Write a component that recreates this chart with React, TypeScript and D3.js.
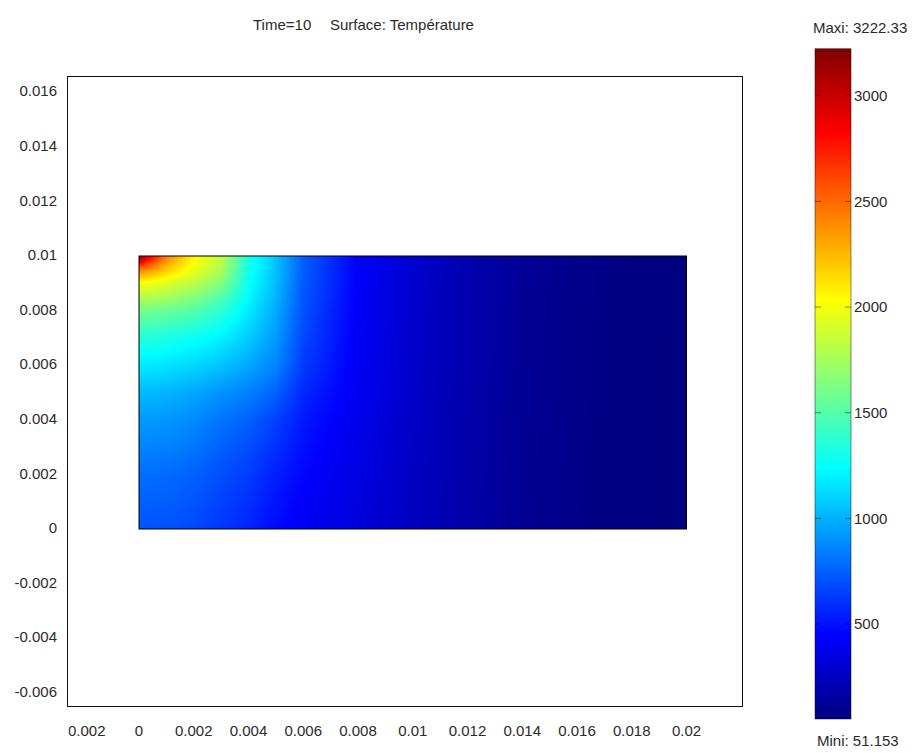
import React, { useMemo } from "react";
import * as d3 from "d3";

// ---- data ----
const titleLeft = "Time=10";
const titleRight = "Surface: Température";
const maxLabel = "Maxi: 3222.33";
const minLabel = "Mini: 51.153";
const tMin = 51.153;
const tMax = 3222.33;

const xTicks = [-0.002, 0, 0.002, 0.004, 0.006, 0.008, 0.01, 0.012, 0.014, 0.016, 0.018, 0.02];
const xTickLabels = ["-0.002", "0", "0.002", "0.004", "0.006", "0.008", "0.01", "0.012", "0.014", "0.016", "0.018", "0.02"];
const yTicks = [0.016, 0.014, 0.012, 0.01, 0.008, 0.006, 0.004, 0.002, 0, -0.002, -0.004, -0.006];
const yTickLabels = ["0.016", "0.014", "0.012", "0.01", "0.008", "0.006", "0.004", "0.002", "0", "-0.002", "-0.004", "-0.006"];
const cbTicks = [500, 1000, 1500, 2000, 2500, 3000];

// temperature grid (sampled from the surface plot colours)
const gridX = [0, 0.0005, 0.001, 0.002, 0.003, 0.004, 0.005, 0.006, 0.008, 0.01, 0.012, 0.014, 0.016, 0.018, 0.02];
const gridY = [0.01, 0.0095, 0.009, 0.0085, 0.008, 0.007, 0.006, 0.005, 0.004, 0.002, 0];
const row0100 = [3222, 2800, 2450, 2050, 1850, 1320, 1060, 740, 440, 300, 200, 125, 82, 62, 53];
const row0095 = [2450, 2350, 2200, 1980, 1780, 1300, 1050, 735, 438, 299, 199, 125, 82, 62, 53];
const row0090 = [2000, 1980, 1930, 1820, 1650, 1270, 1030, 725, 435, 297, 198, 124, 82, 62, 53];
const row0085 = [1800, 1790, 1760, 1660, 1500, 1230, 1010, 715, 432, 295, 197, 124, 81, 62, 53];
const row0080 = [1600, 1590, 1570, 1500, 1380, 1180, 980, 700, 428, 293, 196, 123, 81, 62, 53];
const row0070 = [1350, 1340, 1320, 1270, 1200, 1080, 930, 670, 420, 289, 194, 122, 80, 61, 53];
const row0060 = [1180, 1170, 1160, 1120, 1060, 970, 860, 630, 410, 284, 191, 121, 80, 61, 52];
const row0050 = [1030, 1020, 1010, 970, 900, 850, 750, 570, 400, 278, 188, 119, 79, 61, 52];
const row0040 = [930, 925, 915, 880, 810, 750, 650, 520, 385, 272, 185, 117, 78, 60, 52];
const row0020 = [790, 785, 780, 750, 690, 630, 540, 460, 360, 262, 180, 114, 77, 60, 52];
const row0000 = [710, 705, 700, 670, 610, 560, 470, 410, 335, 250, 174, 111, 75, 59, 51];
const tempRows = [row0100, row0095, row0090, row0085, row0080, row0070, row0060, row0050, row0040, row0020, row0000];

// jet colormap
const jetT = [0, 0.125, 0.375, 0.625, 0.875, 1];
const jetColors = ["#000080", "#0000ff", "#00ffff", "#ffff00", "#ff0000", "#800000"];

const W = 912;
const H = 753;
const FONT = "'Liberation Sans', Arial, sans-serif";
const TXT = "#2a2a2a";

function sample(x: number, y: number): number {
  // bilinear over grid
  let i = 0;
  while (i < gridX.length - 2 && x > gridX[i + 1]) i++;
  let j = 0;
  while (j < gridY.length - 2 && y < gridY[j + 1]) j++;
  const tx = Math.max(0, Math.min(1, (x - gridX[i]) / (gridX[i + 1] - gridX[i])));
  const ty = Math.max(0, Math.min(1, (y - gridY[j]) / (gridY[j + 1] - gridY[j])));
  const a = tempRows[j][i], b = tempRows[j][i + 1];
  const c = tempRows[j + 1][i], d = tempRows[j + 1][i + 1];
  return (a * (1 - tx) + b * tx) * (1 - ty) + (c * (1 - tx) + d * tx) * ty;
}

export default function App() {
  const x = d3.scaleLinear().domain([0, 0.02]).range([139, 686.5]);
  const y = d3.scaleLinear().domain([0, 0.01]).range([529, 256]);
  const color = d3
    .scaleLinear<string>()
    .domain(jetT.map((t) => tMin + t * (tMax - tMin)))
    .range(jetColors)
    .clamp(true);
  const cbY = d3.scaleLinear().domain([tMin, tMax]).range([719, 48.7]);

  const frame = { x0: 67, y0: 76, x1: 743, y1: 707 };

  const rx0 = x(0), rx1 = x(0.02), ry0 = y(0.01), ry1 = y(0);
  const imgW = Math.round(rx1 - rx0);
  const imgH = Math.round(ry1 - ry0);

  const href = useMemo(() => {
    if (typeof document === "undefined") return "";
    const cv = document.createElement("canvas");
    cv.width = imgW;
    cv.height = imgH;
    const ctx = cv.getContext("2d");
    if (!ctx) return "";
    const img = ctx.createImageData(imgW, imgH);
    for (let py = 0; py < imgH; py++) {
      const yv = y.invert(ry0 + py + 0.5);
      for (let px = 0; px < imgW; px++) {
        const xv = x.invert(rx0 + px + 0.5);
        const c = d3.rgb(color(sample(xv, yv)));
        const k = (py * imgW + px) * 4;
        img.data[k] = c.r;
        img.data[k + 1] = c.g;
        img.data[k + 2] = c.b;
        img.data[k + 3] = 255;
      }
    }
    ctx.putImageData(img, 0, 0);
    return cv.toDataURL();
  }, []);

  const cbX0 = 815, cbX1 = 851;
  const cbTop = cbY(tMax), cbBot = cbY(tMin);

  return (
    <svg
      width={W}
      height={H}
      viewBox={`0 0 ${W} ${H}`}
      style={{ position: "absolute", left: 0, top: 0, display: "block", background: "#fff" }}
      fontFamily={FONT}
    >
      <defs>
        <clipPath id="xlabClip">
          <rect x={68.5} y={frame.y1} width={W - 68.5} height={H - frame.y1} />
        </clipPath>
        <linearGradient id="cbGrad" gradientUnits="userSpaceOnUse" x1={0} x2={0} y1={cbBot} y2={cbTop}>
          {jetT.map((t, i) => (
            <stop key={i} offset={t} stopColor={jetColors[i]} />
          ))}
        </linearGradient>
      </defs>
      <rect x={0} y={0} width={W} height={H} fill="#fff" />

      {/* title */}
      <text x={253} y={30} fontSize={15} fill={TXT}>{titleLeft}</text>
      <text x={330} y={30} fontSize={15} fill={TXT}>{titleRight}</text>

      {/* axes frame */}
      <rect
        x={frame.x0 + 0.5}
        y={frame.y0 + 0.5}
        width={frame.x1 - frame.x0 - 1}
        height={frame.y1 - frame.y0 - 1}
        fill="none"
        stroke="#111"
        strokeWidth={1}
      />

      {/* surface */}
      {href && (
        <image href={href} x={rx0} y={ry0} width={imgW} height={imgH} preserveAspectRatio="none" />
      )}
      <rect x={rx0} y={ry0} width={rx1 - rx0} height={ry1 - ry0} fill="none" stroke="#000" strokeWidth={1} />

      {/* y tick labels */}
      {yTicks.map((v, i) => (
        <text key={i} x={57} y={y(v) - 1} dy="0.35em" textAnchor="end" fontSize={15} fill={TXT}>
          {yTickLabels[i]}
        </text>
      ))}

      {/* x tick labels (the first one is clipped by the axes box, as in the original) */}
      <g clipPath="url(#xlabClip)">
        {xTicks.map((v, i) => (
          <text key={i} x={x(v)} y={736} textAnchor="middle" fontSize={15} fill={TXT}>
            {xTickLabels[i]}
          </text>
        ))}
      </g>

      {/* colorbar */}
      <text x={813} y={33} fontSize={15} fill={TXT}>{maxLabel}</text>
      <rect x={cbX0} y={cbTop} width={cbX1 - cbX0} height={cbBot - cbTop} fill="url(#cbGrad)" stroke="rgba(0,0,0,0.45)" strokeWidth={1} />
      {cbTicks.map((v) => (
        <g key={v}>
          <line x1={cbX0} x2={cbX0 + 6} y1={cbY(v)} y2={cbY(v)} stroke="rgba(0,0,0,0.45)" />
          <line x1={cbX1 - 6} x2={cbX1} y1={cbY(v)} y2={cbY(v)} stroke="rgba(0,0,0,0.45)" />
          <text x={854} y={cbY(v)} dy="0.35em" fontSize={15} fill={TXT}>{v}</text>
        </g>
      ))}
      <text x={817} y={746} fontSize={15} fill={TXT}>{minLabel}</text>
    </svg>
  );
}
